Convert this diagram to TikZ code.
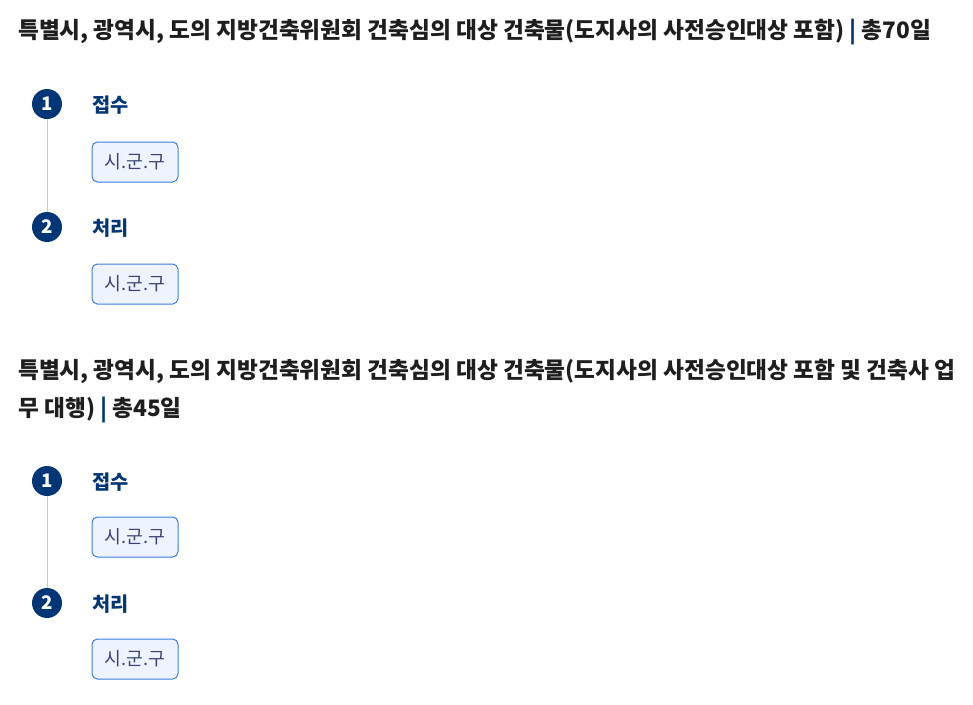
\documentclass[tikz,border=0pt]{standalone}
\usepackage{fontspec}
\setmainfont{Noto Sans CJK KR}
\usetikzlibrary{positioning}
\definecolor{navy}{HTML}{003675}
\definecolor{boxline}{HTML}{3B7DE0}
\definecolor{boxfill}{HTML}{EEF4FF}
\definecolor{railgray}{HTML}{C4C9D2}
\definecolor{titlegray}{HTML}{1E1E1E}
\definecolor{tagtext}{HTML}{3A4478}
\begin{document}
\begin{tikzpicture}[x=0.75pt,y=-0.75pt,
    title/.style={anchor=west, inner sep=0pt, align=left, text=titlegray,
      font=\fontsize{17}{28.5}\selectfont\bfseries},
    stepnum/.style={circle, fill=navy, text=white, minimum size=22.5pt, inner sep=0pt,
      font=\fontsize{14}{14}\selectfont\bfseries},
    steplabel/.style={anchor=west, inner sep=0pt, text=navy,
      font=\fontsize{14.8}{15}\selectfont\bfseries},
    tag/.style={draw=boxline, fill=boxfill, rounded corners=4pt, line width=0.75pt,
      text=tagtext, minimum width=64.5pt, minimum height=30pt, inner sep=0pt,
      font=\fontsize{13.7}{14}\selectfont},
    rail/.style={draw=railgray, line width=0.75pt}]
\useasboundingbox (0,0) rectangle (973,704);

% first procedure
\node[title] (t1) at (18,32) {특별시, 광역시, 도의 지방건축위원회 건축심의 대상 건축물(도지사의 사전승인대상 포함) {\color{navy}|} 총70일};
\node[stepnum] (a1) at (47,104) {1};
\node[stepnum] (a2) at (47,227) {2};
\node[steplabel] (la1) at (92,105) {접수};
\node[steplabel] (la2) at (92,228) {처리};
\node[tag] (ba1) at (135,162) {시.군.구};
\node[tag] (ba2) at (135,284) {시.군.구};
\draw[rail] (a1) -- (a2);

% second procedure
\node[title] (t2) at (18,391) {특별시, 광역시, 도의 지방건축위원회 건축심의 대상 건축물(도지사의 사전승인대상 포함 및 건축사 업\\무 대행) {\color{navy}|} 총45일};
\node[stepnum] (b1) at (47,481) {1};
\node[stepnum] (b2) at (47,603) {2};
\node[steplabel] (lb1) at (92,482) {접수};
\node[steplabel] (lb2) at (92,604) {처리};
\node[tag] (bb1) at (135,537) {시.군.구};
\node[tag] (bb2) at (135,659) {시.군.구};
\draw[rail] (b1) -- (b2);
\end{tikzpicture}
\end{document}
